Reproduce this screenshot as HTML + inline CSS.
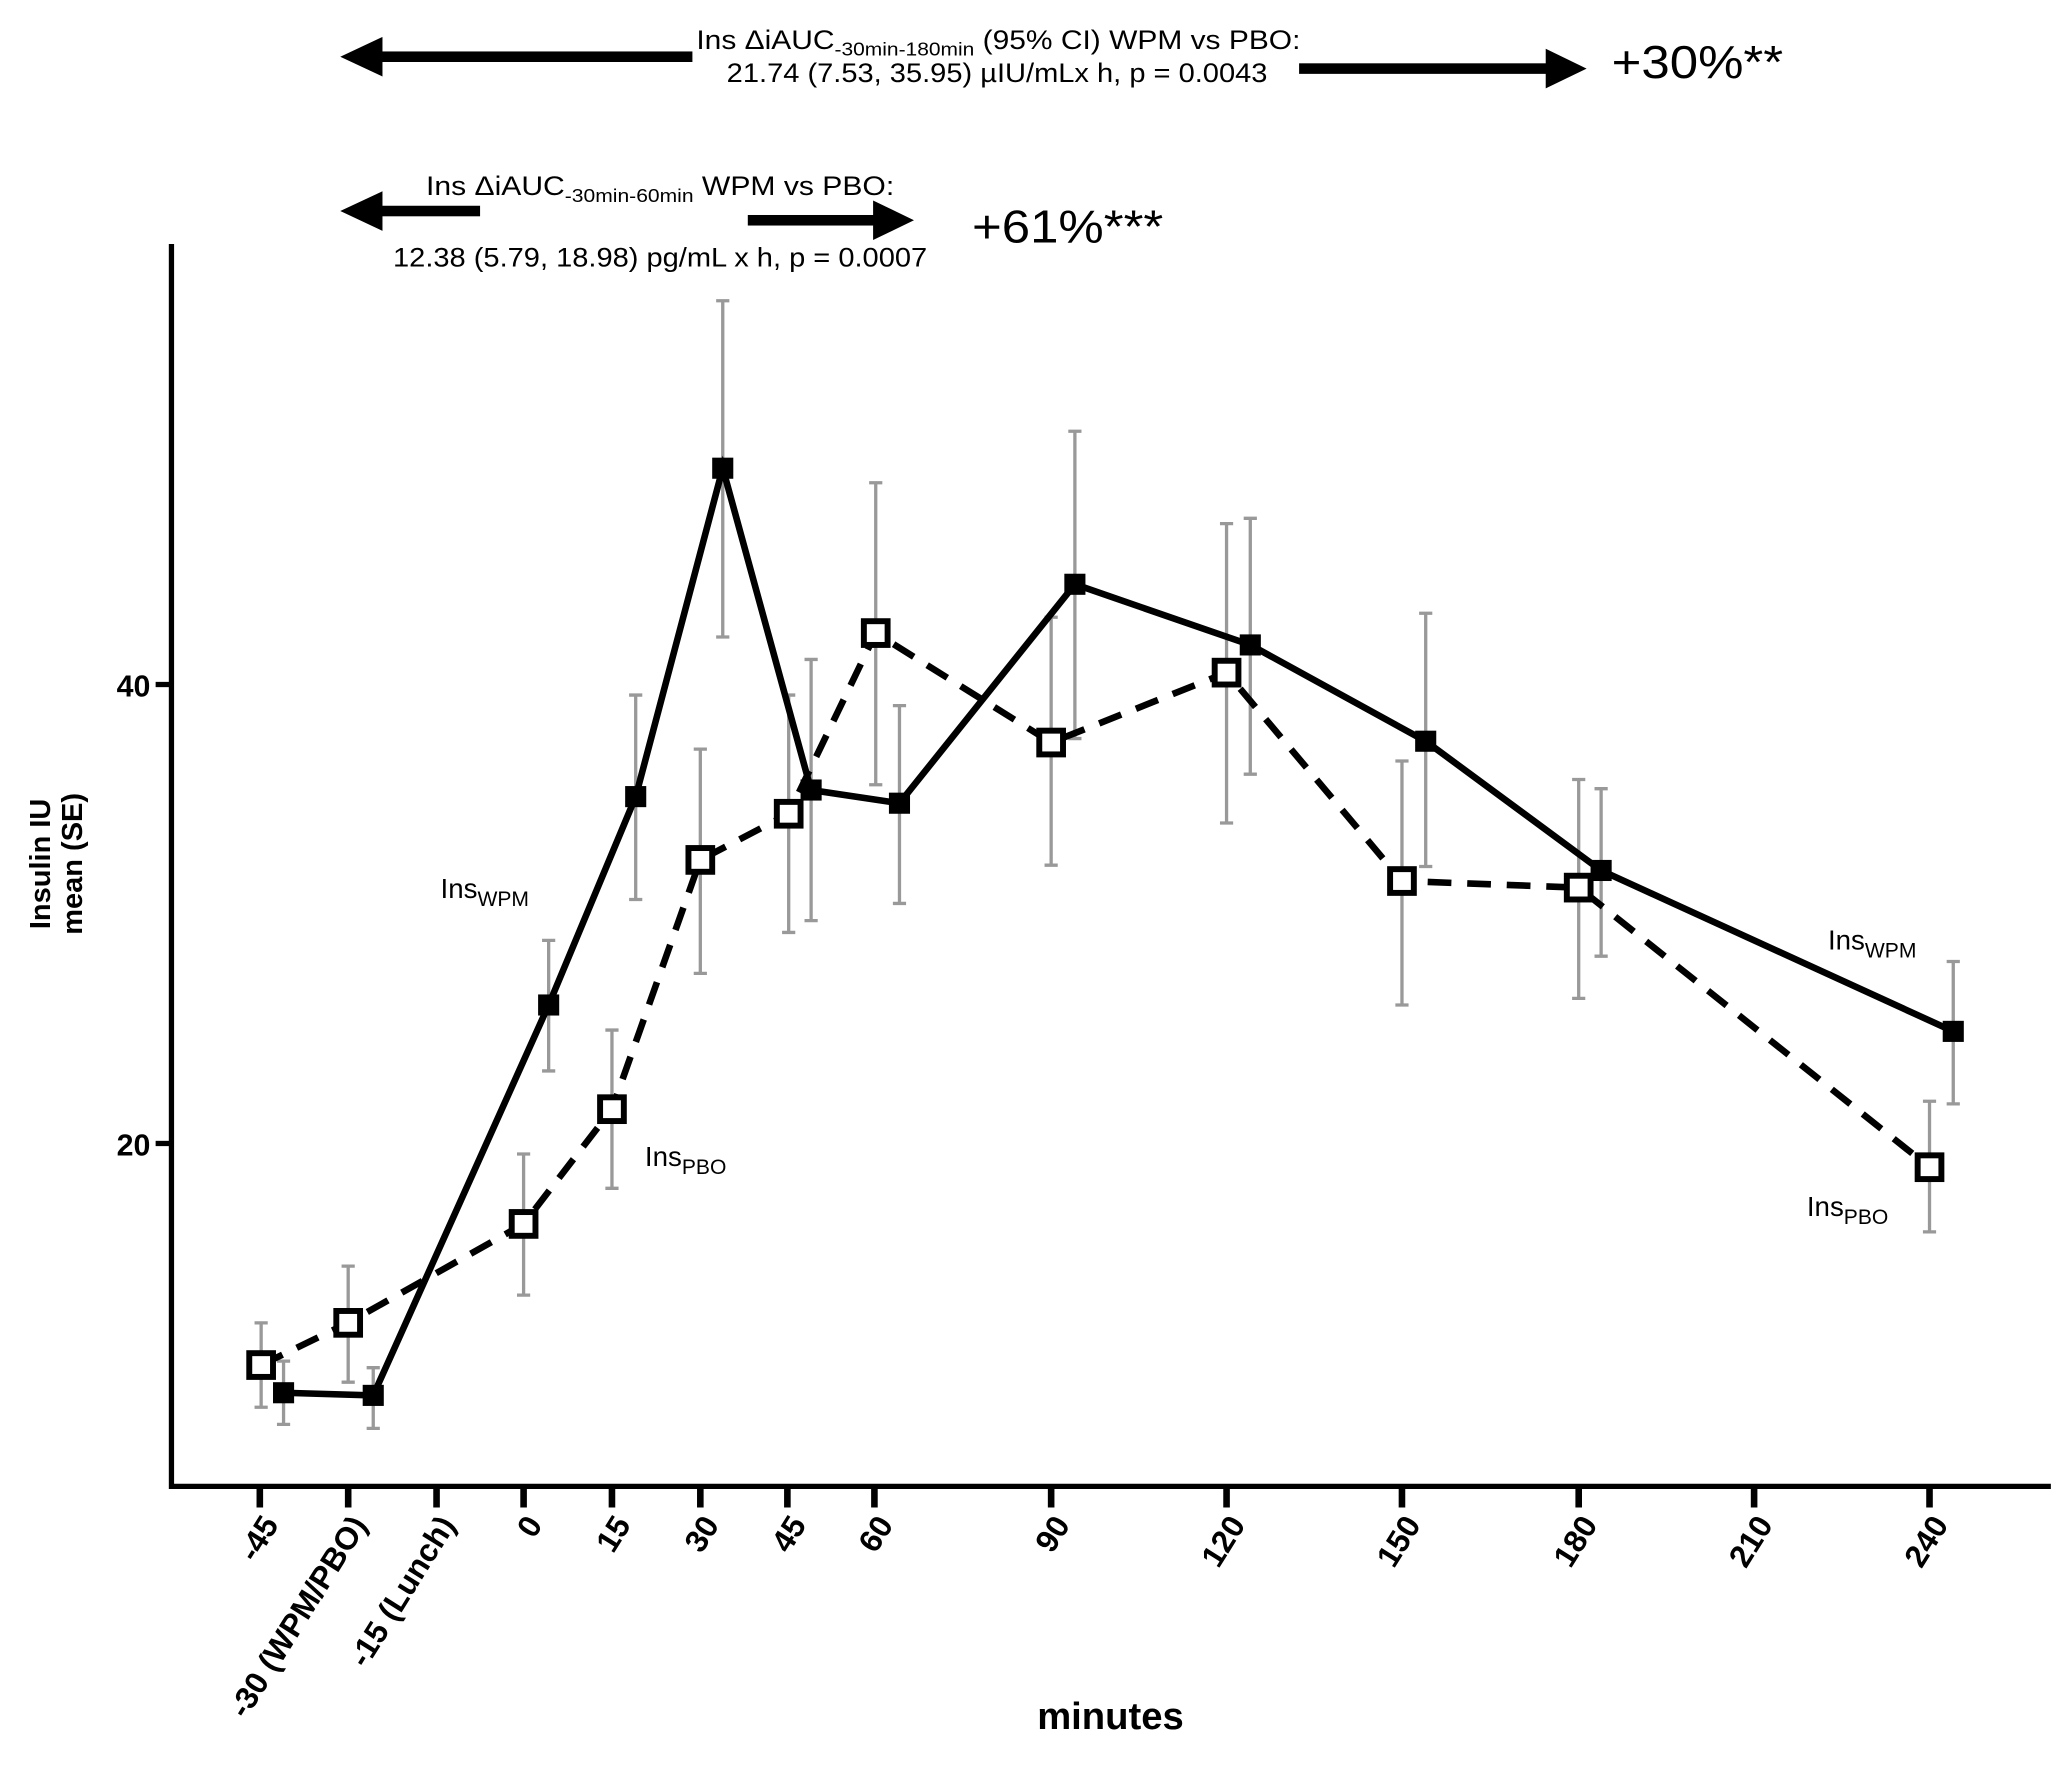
<!DOCTYPE html>
<html><head><meta charset="utf-8"><style>html,body{margin:0;padding:0;background:#fff}svg{display:block}</style></head>
<body>
<svg xmlns="http://www.w3.org/2000/svg" width="2068" height="1790" viewBox="0 0 1568 1357.2" font-family="Liberation Sans, Arial, sans-serif">
<rect width="1568" height="1357.2" fill="#fff"/>
<g fill="#000">
<rect x="280" y="39" width="245" height="8"/><polygon points="258,43 290,28 290,58"/>
<rect x="985" y="48" width="190" height="8"/><polygon points="1203,52 1172,37 1172,67"/>
<rect x="280" y="156" width="84" height="8"/><polygon points="258,160 290,145 290,175"/>
<rect x="567" y="163" width="100" height="8"/><polygon points="693,167 662,152 662,182"/>
</g>
<text x="528" y="37" font-size="20" textLength="458" lengthAdjust="spacingAndGlyphs">Ins ΔiAUC<tspan font-size="14" dy="5">-30min-180min</tspan><tspan dy="-5"> (95% CI) WPM vs  PBO:</tspan></text>
<text x="551" y="62" font-size="20" textLength="410" lengthAdjust="spacingAndGlyphs">21.74 (7.53, 35.95) µIU/mLx h, p = 0.0043</text>
<text x="1222" y="59" font-size="35" textLength="130" lengthAdjust="spacingAndGlyphs">+30%**</text>
<text x="323" y="148" font-size="20" textLength="355" lengthAdjust="spacingAndGlyphs">Ins ΔiAUC<tspan font-size="14" dy="5">-30min-60min</tspan><tspan dy="-5"> WPM vs  PBO:</tspan></text>
<text x="298" y="202" font-size="20" textLength="405" lengthAdjust="spacingAndGlyphs">12.38 (5.79, 18.98) pg/mL x h, p = 0.0007</text>
<text x="737" y="184" font-size="35" textLength="145" lengthAdjust="spacingAndGlyphs">+61%***</text>
<g stroke="#000" stroke-width="4" fill="none">
<polyline points="130,185 130,1127 1555,1127"/>
<line x1="118" y1="519" x2="130" y2="519"/><line x1="118" y1="867" x2="130" y2="867"/>
<g stroke-width="5">
<line x1="197" y1="1127" x2="197" y2="1143"/><line x1="264" y1="1127" x2="264" y2="1143"/>
<line x1="331" y1="1127" x2="331" y2="1143"/><line x1="397" y1="1127" x2="397" y2="1143"/>
<line x1="464" y1="1127" x2="464" y2="1143"/><line x1="531" y1="1127" x2="531" y2="1143"/>
<line x1="597" y1="1127" x2="597" y2="1143"/><line x1="663" y1="1127" x2="663" y2="1143"/>
<line x1="797" y1="1127" x2="797" y2="1143"/><line x1="930" y1="1127" x2="930" y2="1143"/>
<line x1="1063" y1="1127" x2="1063" y2="1143"/><line x1="1197" y1="1127" x2="1197" y2="1143"/>
<line x1="1330" y1="1127" x2="1330" y2="1143"/><line x1="1463" y1="1127" x2="1463" y2="1143"/>
</g></g>
<g font-weight="bold" font-size="23" text-anchor="end">
<text x="114" y="528">40</text><text x="114" y="876">20</text>
</g>
<g font-weight="bold" font-size="24" text-anchor="end">
<text transform="translate(212,1156) rotate(-58)">-45</text>
<text transform="translate(279,1156) rotate(-58)">-30 (WPM/PBO)</text>
<text transform="translate(346,1156) rotate(-58)">-15 (Lunch)</text>
<text transform="translate(412,1156) rotate(-58)">0</text>
<text transform="translate(479,1156) rotate(-58)">15</text>
<text transform="translate(546,1156) rotate(-58)">30</text>
<text transform="translate(612,1156) rotate(-58)">45</text>
<text transform="translate(678,1156) rotate(-58)">60</text>
<text transform="translate(812,1156) rotate(-58)">90</text>
<text transform="translate(945,1156) rotate(-58)">120</text>
<text transform="translate(1078,1156) rotate(-58)">150</text>
<text transform="translate(1212,1156) rotate(-58)">180</text>
<text transform="translate(1345,1156) rotate(-58)">210</text>
<text transform="translate(1478,1156) rotate(-58)">240</text>
</g>
<text x="842" y="1311" font-size="29" font-weight="bold" text-anchor="middle">minutes</text>
<g font-weight="bold" font-size="22" text-anchor="middle">
<text transform="translate(38,655) rotate(-90)">Insulin IU</text>
<text transform="translate(62,655) rotate(-90)">mean (SE)</text>
</g>
<g stroke="#999" stroke-width="2.5">
<path d="M215,1032V1080M283,1037V1083M416,713V812M482,527V682M548,228V483M615,500V698M682,535V685M815,327V560M948,393V587M1081,465V657M1214,598V725M1481,729V837"/>
<path d="M198,1003V1067M264,960V1048M397,875V982M464,781V901M531,568V738M598,527V707M664,366V595M797,468V656M930,397V624M1063,577V762M1197,591V757M1463,835V934"/>
<path d="M210,1032h10M210,1080h10M278,1037h10M278,1083h10M411,713h10M411,812h10M477,527h10M477,682h10M543,228h10M543,483h10M610,500h10M610,698h10M677,535h10M677,685h10M810,327h10M810,560h10M943,393h10M943,587h10M1076,465h10M1076,657h10M1209,598h10M1209,725h10M1476,729h10M1476,837h10"/>
<path d="M193,1003h10M193,1067h10M259,960h10M259,1048h10M392,875h10M392,982h10M459,781h10M459,901h10M526,568h10M526,738h10M593,527h10M593,707h10M659,366h10M659,595h10M792,468h10M792,656h10M925,397h10M925,624h10M1058,577h10M1058,762h10M1192,591h10M1192,757h10M1458,835h10M1458,934h10"/>
</g>
<polyline fill="none" stroke="#000" stroke-width="5" stroke-dasharray="18,12" points="198,1035 264,1003 397,928 464,841 531,652 598,617 664,480 797,563 930,510 1063,668 1197,673 1463,885"/>
<polyline fill="none" stroke="#000" stroke-width="5" points="215,1056 283,1058 416,762 482,604 548,355 615,599 682,609 815,443 948,489 1081,562 1214,660 1481,782"/>
<g fill="#000">
<rect x="207" y="1048" width="16" height="16"/><rect x="275" y="1050" width="16" height="16"/><rect x="408" y="754" width="16" height="16"/><rect x="474" y="596" width="16" height="16"/><rect x="540" y="347" width="16" height="16"/><rect x="607" y="591" width="16" height="16"/><rect x="674" y="601" width="16" height="16"/><rect x="807" y="435" width="16" height="16"/><rect x="940" y="481" width="16" height="16"/><rect x="1073" y="554" width="16" height="16"/><rect x="1206" y="652" width="16" height="16"/><rect x="1473" y="774" width="16" height="16"/>
</g>
<g fill="#fff" stroke="#000" stroke-width="4.5">
<rect x="189" y="1026" width="18" height="18"/><rect x="255" y="994" width="18" height="18"/><rect x="388" y="919" width="18" height="18"/><rect x="455" y="832" width="18" height="18"/><rect x="522" y="643" width="18" height="18"/><rect x="589" y="608" width="18" height="18"/><rect x="655" y="471" width="18" height="18"/><rect x="788" y="554" width="18" height="18"/><rect x="921" y="501" width="18" height="18"/><rect x="1054" y="659" width="18" height="18"/><rect x="1188" y="664" width="18" height="18"/><rect x="1454" y="876" width="18" height="18"/>
</g>
<g font-size="21">
<text x="334" y="681">Ins<tspan font-size="16" dy="6">WPM</tspan></text>
<text x="489" y="884">Ins<tspan font-size="16" dy="6">PBO</tspan></text>
<text x="1386" y="720">Ins<tspan font-size="16" dy="6">WPM</tspan></text>
<text x="1370" y="922">Ins<tspan font-size="16" dy="6">PBO</tspan></text>
</g>
</svg>
</body></html>
